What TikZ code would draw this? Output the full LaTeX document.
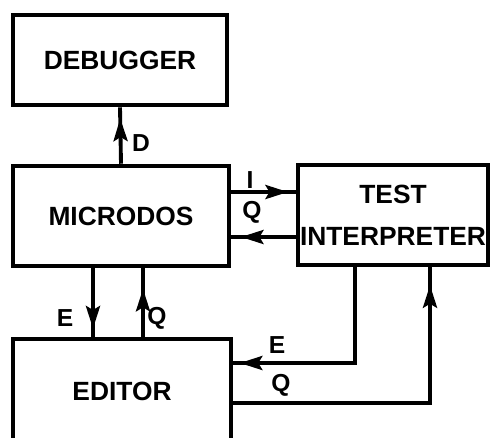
\documentclass[tikz,border=0pt]{standalone}
\usepackage{fontspec}
\setmainfont{Liberation Sans}
\usetikzlibrary{arrows.meta,decorations.markings}
\tikzset{
  box/.style={draw, line width=2.6pt, inner sep=0pt, font=\bfseries\fontsize{15}{24}\selectfont},
  flow/.style={line width=2.2pt},
  headat/.style={postaction={decorate}, decoration={markings,
    mark=at position #1 with {\arrow{Stealth[length=4.5mm,width=2.8mm,inset=0.8mm]}}}},
  sig/.style={inner sep=0pt, font=\bfseries\fontsize{14}{16}\selectfont}
}
\begin{document}
\begin{tikzpicture}[x=0.02cm, y=-0.02cm]
  \useasboundingbox (0,0) rectangle (492,437);
  \clip (0,0) rectangle (492,437);
  % the four programs
  \node[box, minimum width=4.28cm, minimum height=1.8cm] (debugger) at (120,60) {DEBUGGER};
  \node[box, minimum width=4.32cm, minimum height=2cm] (microdos) at (121,216) {MICRODOS};
  \node[box, minimum width=3.8cm, minimum height=2cm, align=center] (test) at (393,215) {TEST\\INTERPRETER};
  \node[box, minimum width=4.36cm, minimum height=2.08cm] (editor) at (122,391) {EDITOR};
  % calls between them
  \draw[flow, headat=0.8] (microdos.north) -- (debugger.south);
  \draw[flow, headat=0.88] (microdos.east |- 0,192) -- (test.west |- 0,192);
  \draw[flow, headat=0.85] (test.west |- 0,237) -- (microdos.east |- 0,237);
  \draw[flow, headat=0.88] (microdos.south -| 93,0) -- (editor.north -| 93,0);
  \draw[flow, headat=0.7] (editor.north -| 143,0) -- (microdos.south -| 143,0);
  \draw[flow, headat=0.97] (test.south -| 355,0) |- (editor.east |- 0,363);
  \draw[flow, headat=0.946] (editor.east |- 0,403) -| (test.south -| 430,0);
  % labels
  \node[sig] (lD) at (141,143) {D};
  \node[sig] (lI) at (250,180) {I};
  \node[sig] (lQ1) at (252,212) {Q};
  \node[sig] (lE1) at (65,318) {E};
  \node[sig] (lQ2) at (157,318) {Q};
  \node[sig] (lE2) at (277,345) {E};
  \node[sig] (lQ3) at (281,385) {Q};
\end{tikzpicture}
\end{document}
